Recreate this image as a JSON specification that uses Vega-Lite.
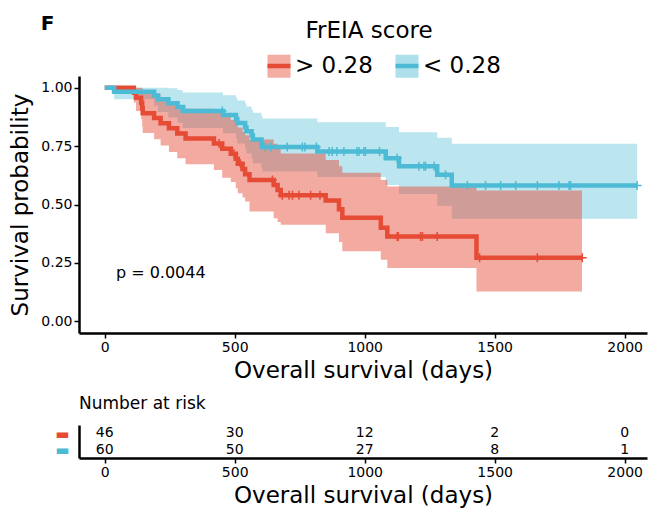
{
  "$schema": "https://vega.github.io/schema/vega-lite/v6.json",
  "background": "white",
  "padding": {"left": 9, "top": 14, "right": 2, "bottom": 2},
  "config": {
    "font": "DejaVu Sans",
    "view": {"stroke": null},
    "axis": {
      "grid": false,
      "domainColor": "black",
      "domainWidth": 2.5,
      "tickColor": "black",
      "tickWidth": 1.5,
      "tickSize": 5,
      "labelColor": "black",
      "labelFont": "DejaVu Sans",
      "labelFontSize": 14,
      "labelPadding": 2,
      "titleFont": "DejaVu Sans",
      "titleFontSize": 23,
      "titleFontWeight": "normal",
      "titleColor": "black"
    },
    "title": {"color": "black", "font": "DejaVu Sans"}
  },
  "title": {"text": "F", "anchor": "start", "frame": "bounds", "fontSize": 20, "fontWeight": "bold", "dx": 31, "offset": -14},
  "datasets": {
    "km": [
      {"group": "> 0.28", "day": 0, "surv": 1, "lower": 1, "upper": 1},
      {"group": "> 0.28", "day": 112, "surv": 0.978, "lower": 0.937, "upper": 1},
      {"group": "> 0.28", "day": 120, "surv": 0.957, "lower": 0.9, "upper": 1},
      {"group": "> 0.28", "day": 140, "surv": 0.935, "lower": 0.866, "upper": 1},
      {"group": "> 0.28", "day": 144, "surv": 0.913, "lower": 0.835, "upper": 0.998},
      {"group": "> 0.28", "day": 146, "surv": 0.891, "lower": 0.806, "upper": 0.985},
      {"group": "> 0.28", "day": 190, "surv": 0.87, "lower": 0.779, "upper": 0.972},
      {"group": "> 0.28", "day": 215, "surv": 0.848, "lower": 0.752, "upper": 0.957},
      {"group": "> 0.28", "day": 247, "surv": 0.826, "lower": 0.725, "upper": 0.941},
      {"group": "> 0.28", "day": 279, "surv": 0.804, "lower": 0.698, "upper": 0.926},
      {"group": "> 0.28", "day": 311, "surv": 0.783, "lower": 0.672, "upper": 0.91},
      {"group": "> 0.28", "day": 420, "surv": 0.761, "lower": 0.648, "upper": 0.894},
      {"group": "> 0.28", "day": 452, "surv": 0.739, "lower": 0.615, "upper": 0.876},
      {"group": "> 0.28", "day": 485, "surv": 0.717, "lower": 0.596, "upper": 0.862},
      {"group": "> 0.28", "day": 504, "surv": 0.696, "lower": 0.57, "upper": 0.85},
      {"group": "> 0.28", "day": 512, "surv": 0.674, "lower": 0.548, "upper": 0.83},
      {"group": "> 0.28", "day": 530, "surv": 0.652, "lower": 0.53, "upper": 0.812},
      {"group": "> 0.28", "day": 540, "surv": 0.63, "lower": 0.513, "upper": 0.796},
      {"group": "> 0.28", "day": 557, "surv": 0.605, "lower": 0.47, "upper": 0.778},
      {"group": "> 0.28", "day": 650, "surv": 0.583, "lower": 0.441, "upper": 0.76},
      {"group": "> 0.28", "day": 665, "surv": 0.562, "lower": 0.425, "upper": 0.74},
      {"group": "> 0.28", "day": 677, "surv": 0.54, "lower": 0.413, "upper": 0.718},
      {"group": "> 0.28", "day": 850, "surv": 0.517, "lower": 0.377, "upper": 0.69},
      {"group": "> 0.28", "day": 901, "surv": 0.48, "lower": 0.34, "upper": 0.664},
      {"group": "> 0.28", "day": 914, "surv": 0.443, "lower": 0.3, "upper": 0.636},
      {"group": "> 0.28", "day": 1062, "surv": 0.4, "lower": 0.264, "upper": 0.605},
      {"group": "> 0.28", "day": 1087, "surv": 0.363, "lower": 0.228, "upper": 0.577},
      {"group": "> 0.28", "day": 1430, "surv": 0.272, "lower": 0.128, "upper": 0.56},
      {"group": "> 0.28", "day": 1836, "surv": 0.272, "lower": 0.128, "upper": 0.56},
      {"group": "< 0.28", "day": 0, "surv": 1, "lower": 1, "upper": 1},
      {"group": "< 0.28", "day": 36, "surv": 0.983, "lower": 0.951, "upper": 1},
      {"group": "< 0.28", "day": 190, "surv": 0.967, "lower": 0.923, "upper": 1},
      {"group": "< 0.28", "day": 205, "surv": 0.95, "lower": 0.896, "upper": 1},
      {"group": "< 0.28", "day": 245, "surv": 0.933, "lower": 0.872, "upper": 0.998},
      {"group": "< 0.28", "day": 280, "surv": 0.917, "lower": 0.85, "upper": 0.99},
      {"group": "< 0.28", "day": 300, "surv": 0.9, "lower": 0.827, "upper": 0.979},
      {"group": "< 0.28", "day": 455, "surv": 0.883, "lower": 0.805, "upper": 0.968},
      {"group": "< 0.28", "day": 505, "surv": 0.866, "lower": 0.783, "upper": 0.957},
      {"group": "< 0.28", "day": 510, "surv": 0.849, "lower": 0.761, "upper": 0.945},
      {"group": "< 0.28", "day": 540, "surv": 0.831, "lower": 0.739, "upper": 0.933},
      {"group": "< 0.28", "day": 545, "surv": 0.813, "lower": 0.718, "upper": 0.919},
      {"group": "< 0.28", "day": 565, "surv": 0.795, "lower": 0.697, "upper": 0.906},
      {"group": "< 0.28", "day": 570, "surv": 0.778, "lower": 0.677, "upper": 0.893},
      {"group": "< 0.28", "day": 603, "surv": 0.76, "lower": 0.657, "upper": 0.879},
      {"group": "< 0.28", "day": 606, "surv": 0.746, "lower": 0.641, "upper": 0.868},
      {"group": "< 0.28", "day": 818, "surv": 0.727, "lower": 0.618, "upper": 0.852},
      {"group": "< 0.28", "day": 1081, "surv": 0.698, "lower": 0.584, "upper": 0.832},
      {"group": "< 0.28", "day": 1132, "surv": 0.664, "lower": 0.545, "upper": 0.809},
      {"group": "< 0.28", "day": 1279, "surv": 0.627, "lower": 0.495, "upper": 0.786},
      {"group": "< 0.28", "day": 1335, "surv": 0.581, "lower": 0.439, "upper": 0.76},
      {"group": "< 0.28", "day": 2048, "surv": 0.581, "lower": 0.439, "upper": 0.76}
    ],
    "censor": [
      {"group": "> 0.28", "day": 440, "surv": 0.761},
      {"group": "> 0.28", "day": 497, "surv": 0.717},
      {"group": "> 0.28", "day": 522, "surv": 0.674},
      {"group": "> 0.28", "day": 645, "surv": 0.605},
      {"group": "> 0.28", "day": 683, "surv": 0.54},
      {"group": "> 0.28", "day": 709, "surv": 0.54},
      {"group": "> 0.28", "day": 722, "surv": 0.54},
      {"group": "> 0.28", "day": 747, "surv": 0.54},
      {"group": "> 0.28", "day": 792, "surv": 0.54},
      {"group": "> 0.28", "day": 828, "surv": 0.54},
      {"group": "> 0.28", "day": 1125, "surv": 0.363},
      {"group": "> 0.28", "day": 1129, "surv": 0.363},
      {"group": "> 0.28", "day": 1215, "surv": 0.363},
      {"group": "> 0.28", "day": 1222, "surv": 0.363},
      {"group": "> 0.28", "day": 1279, "surv": 0.363},
      {"group": "> 0.28", "day": 1442, "surv": 0.272},
      {"group": "> 0.28", "day": 1664, "surv": 0.272},
      {"group": "> 0.28", "day": 1837, "surv": 0.272},
      {"group": "< 0.28", "day": 452, "surv": 0.9},
      {"group": "< 0.28", "day": 618, "surv": 0.746},
      {"group": "< 0.28", "day": 638, "surv": 0.746},
      {"group": "< 0.28", "day": 702, "surv": 0.746},
      {"group": "< 0.28", "day": 760, "surv": 0.746},
      {"group": "< 0.28", "day": 770, "surv": 0.746},
      {"group": "< 0.28", "day": 814, "surv": 0.746},
      {"group": "< 0.28", "day": 863, "surv": 0.727},
      {"group": "< 0.28", "day": 875, "surv": 0.727},
      {"group": "< 0.28", "day": 893, "surv": 0.727},
      {"group": "< 0.28", "day": 920, "surv": 0.727},
      {"group": "< 0.28", "day": 970, "surv": 0.727},
      {"group": "< 0.28", "day": 978, "surv": 0.727},
      {"group": "< 0.28", "day": 997, "surv": 0.727},
      {"group": "< 0.28", "day": 1003, "surv": 0.727},
      {"group": "< 0.28", "day": 1057, "surv": 0.727},
      {"group": "< 0.28", "day": 1125, "surv": 0.698},
      {"group": "< 0.28", "day": 1209, "surv": 0.664},
      {"group": "< 0.28", "day": 1228, "surv": 0.664},
      {"group": "< 0.28", "day": 1234, "surv": 0.664},
      {"group": "< 0.28", "day": 1267, "surv": 0.664},
      {"group": "< 0.28", "day": 1311, "surv": 0.627},
      {"group": "< 0.28", "day": 1395, "surv": 0.581},
      {"group": "< 0.28", "day": 1465, "surv": 0.581},
      {"group": "< 0.28", "day": 1523, "surv": 0.581},
      {"group": "< 0.28", "day": 1581, "surv": 0.581},
      {"group": "< 0.28", "day": 1664, "surv": 0.581},
      {"group": "< 0.28", "day": 1747, "surv": 0.581},
      {"group": "< 0.28", "day": 1786, "surv": 0.581},
      {"group": "< 0.28", "day": 1792, "surv": 0.581},
      {"group": "< 0.28", "day": 2048, "surv": 0.581}
    ],
    "risk": [
      {"group": "> 0.28", "day": 0, "n": 46},
      {"group": "> 0.28", "day": 500, "n": 30},
      {"group": "> 0.28", "day": 1000, "n": 12},
      {"group": "> 0.28", "day": 1500, "n": 2},
      {"group": "> 0.28", "day": 2000, "n": 0},
      {"group": "< 0.28", "day": 0, "n": 60},
      {"group": "< 0.28", "day": 500, "n": 50},
      {"group": "< 0.28", "day": 1000, "n": 27},
      {"group": "< 0.28", "day": 1500, "n": 8},
      {"group": "< 0.28", "day": 2000, "n": 1}
    ]
  },
  "bounds": "flush",
  "spacing": 92,
  "vconcat": [
    {
      "width": 568,
      "height": 257,
      "title": {"text": "FrEIA score", "anchor": "middle", "frame": "group", "fontSize": 23, "fontWeight": "normal", "offset": 33, "dx": 6},
      "layer": [
        {
          "data": {"name": "km"},
          "transform": [{"filter": "datum.group === '< 0.28'"}],
          "mark": {"type": "area", "interpolate": "step-after", "fillOpacity": 0.38},
          "encoding": {
            "x": {"field": "day", "type": "quantitative", "scale": {"domain": [-99, 2086], "nice": false, "zero": false},
                  "axis": {"values": [0, 500, 1000, 1500, 2000], "format": "d", "title": "Overall survival (days)", "titlePadding": 5}},
            "y": {"field": "lower", "type": "quantitative", "scale": {"domain": [-0.05, 1.05], "nice": false, "zero": false},
                  "axis": {"values": [0, 0.25, 0.5, 0.75, 1], "format": ".2f", "title": "Survival probability", "titlePadding": 8}},
            "y2": {"field": "upper"},
            "fill": {"field": "group", "type": "nominal",
                     "scale": {"domain": ["> 0.28", "< 0.28"], "range": ["#E64B35", "#4DBBD5"]},
                     "legend": {"orient": "none", "legendX": 186, "legendY": -24, "direction": "horizontal", "title": null,
                                "symbolType": "M-1,-1H1V1H-1Z", "symbolSize": 529, "symbolOpacity": 0.45,
                                "symbolStrokeWidth": 4.5, "symbolStrokeColor": "transparent",
                                "labelFontSize": 23, "labelOffset": 2, "columnPadding": 13, "labelColor": "black", "labelLimit": 400}}
          }
        },
        {
          "data": {"name": "km"},
          "transform": [{"filter": "datum.group === '> 0.28'"}],
          "mark": {"type": "area", "interpolate": "step-after", "fillOpacity": 0.47},
          "encoding": {
            "x": {"field": "day", "type": "quantitative"},
            "y": {"field": "lower", "type": "quantitative"},
            "y2": {"field": "upper"},
            "fill": {"field": "group", "type": "nominal"}
          }
        },
        {
          "data": {"name": "km"},
          "transform": [{"filter": "datum.group === '> 0.28'"}],
          "mark": {"type": "line", "interpolate": "step-after", "strokeWidth": 4.5},
          "encoding": {
            "x": {"field": "day", "type": "quantitative"},
            "y": {"field": "surv", "type": "quantitative"},
            "stroke": {"field": "group", "type": "nominal",
                       "scale": {"domain": ["> 0.28", "< 0.28", " "], "range": ["#E64B35", "#4DBBD5", "#000000"]},
                       "legend": {"orient": "none", "legendX": 186, "legendY": -24, "direction": "horizontal", "title": null,
                                  "values": ["> 0.28", "< 0.28"],
                                  "symbolType": "M-1,0H1", "symbolSize": 529, "symbolStrokeWidth": 4.5, "symbolFillColor": "transparent",
                                  "labelFontSize": 23, "labelOffset": 2, "columnPadding": 13, "labelOpacity": 0, "labelLimit": 400}}
          }
        },
        {
          "data": {"name": "km"},
          "transform": [{"filter": "datum.group === '< 0.28'"}],
          "mark": {"type": "line", "interpolate": "step-after", "strokeWidth": 4.5},
          "encoding": {
            "x": {"field": "day", "type": "quantitative"},
            "y": {"field": "surv", "type": "quantitative"},
            "stroke": {"field": "group", "type": "nominal"}
          }
        },
        {
          "data": {"name": "censor"},
          "mark": {"type": "point", "shape": "M-1,0L1,0M0,-1L0,1", "filled": false, "size": 81, "strokeWidth": 1.5, "opacity": 1},
          "encoding": {
            "x": {"field": "day", "type": "quantitative"},
            "y": {"field": "surv", "type": "quantitative"},
            "stroke": {"field": "group", "type": "nominal"}
          }
        },
        {
          "data": {"values": [{"day": 43, "surv": 0.205, "label": "p = 0.0044"}]},
          "mark": {"type": "text", "align": "left", "baseline": "middle", "fontSize": 16, "color": "black"},
          "encoding": {
            "x": {"field": "day", "type": "quantitative"},
            "y": {"field": "surv", "type": "quantitative"},
            "text": {"field": "label"}
          }
        }
      ]
    },
    {
      "width": 568,
      "height": 33,
      "title": {"text": "Number at risk", "anchor": "start", "frame": "group", "fontSize": 17, "fontWeight": "normal", "offset": 12},
      "data": {"name": "risk"},
      "mark": {"type": "text", "fontSize": 14, "color": "black"},
      "encoding": {
        "x": {"field": "day", "type": "quantitative", "scale": {"domain": [-99, 2086], "nice": false, "zero": false},
              "axis": {"values": [0, 500, 1000, 1500, 2000], "format": "d", "title": "Overall survival (days)", "titlePadding": 5}},
        "y": {"field": "group", "type": "nominal", "scale": {"domain": ["> 0.28", "< 0.28"]},
              "axis": {"title": null, "ticks": false, "labelExpr": "'▬'", "labelFontSize": 15, "labelPadding": 10,
                       "labelColor": {"condition": {"test": "datum.value === '> 0.28'", "value": "#E64B35"}, "value": "#4DBBD5"}}},
        "text": {"field": "n", "type": "quantitative"}
      }
    }
  ]
}
